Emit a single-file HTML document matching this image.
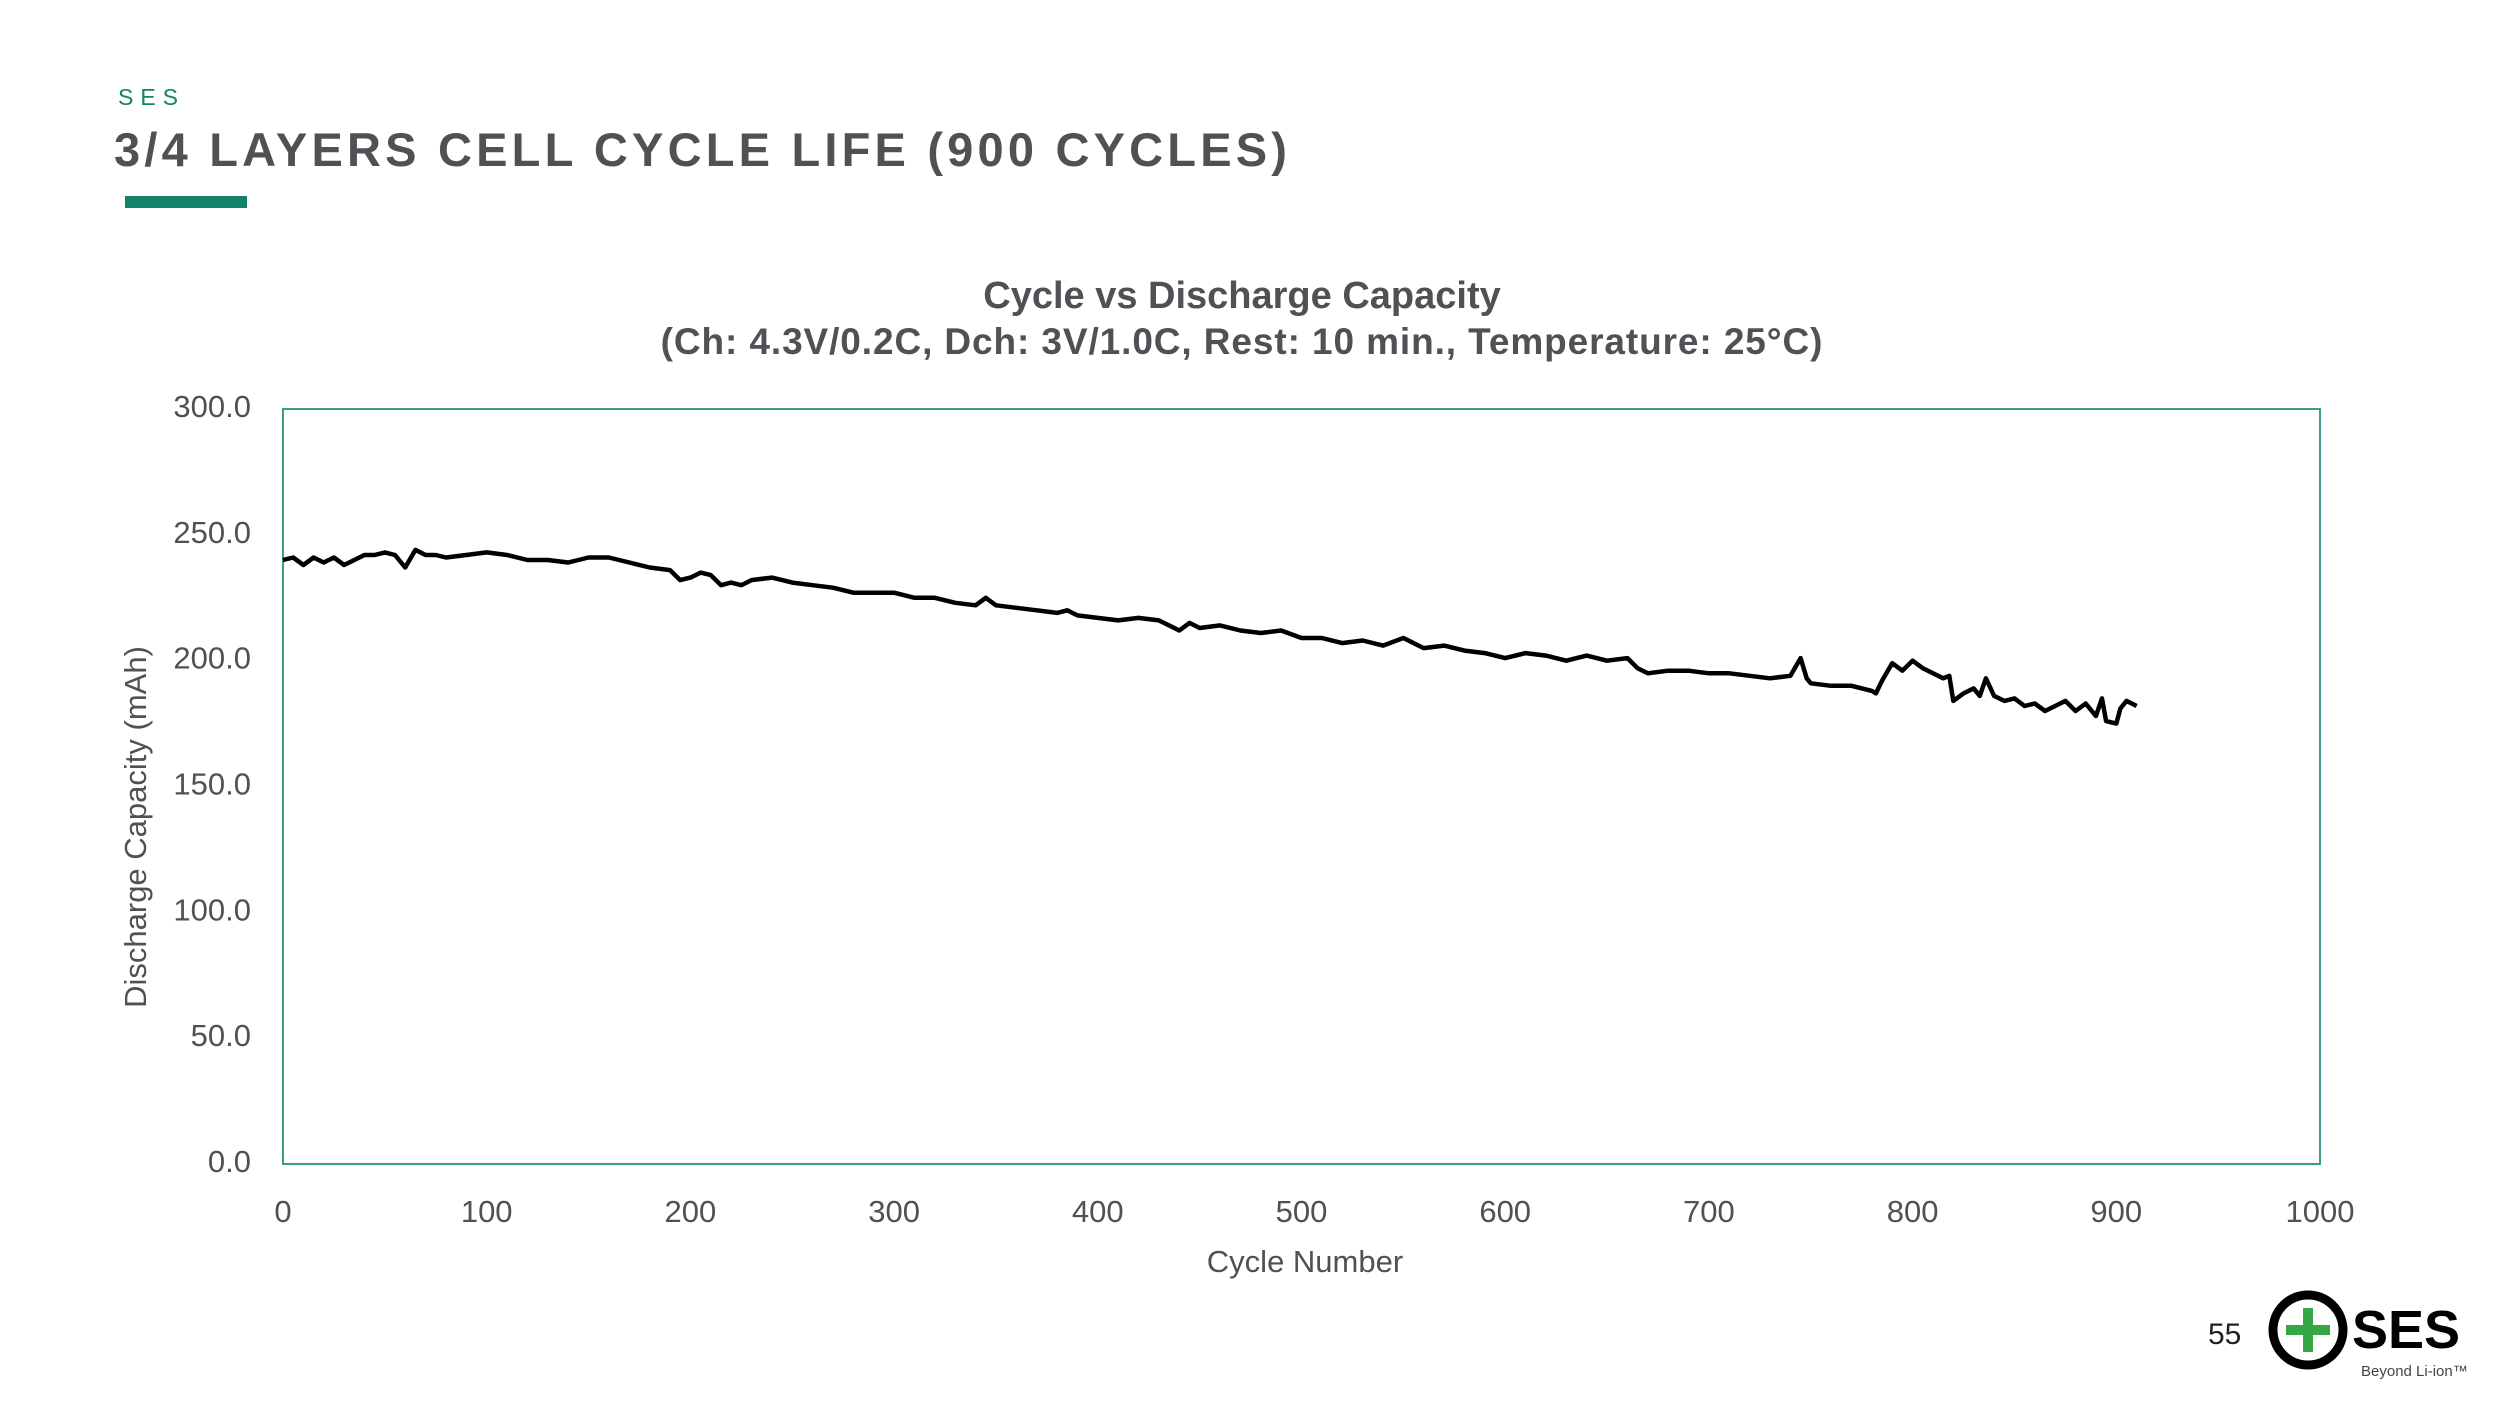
<!DOCTYPE html>
<html><head><meta charset="utf-8"><style>
html,body{margin:0;padding:0;background:#fff;}
body{width:2500px;height:1406px;position:relative;overflow:hidden;font-family:"Liberation Sans",sans-serif;}
.abs{position:absolute;}
</style></head><body>
<div class="abs" style="left:118px;top:84px;font-size:23px;letter-spacing:7px;color:#138367;">SES</div>
<div class="abs" style="left:114px;top:122px;font-size:47px;font-weight:bold;letter-spacing:4.2px;color:#505055;white-space:nowrap;">3/4 LAYERS CELL CYCLE LIFE (900 CYCLES)</div>
<div class="abs" style="left:125px;top:196px;width:122px;height:12px;background:#138367;"></div>

<svg class="abs" style="left:0;top:0" width="2500" height="1406">
  <g id="chart-root"></g>
</svg>

<div class="abs" style="left:2208px;top:1318px;font-size:30px;color:#222;">55</div>
<svg class="abs" style="left:2260px;top:1280px" width="240" height="120">
  <circle cx="48" cy="50" r="35" fill="none" stroke="#000" stroke-width="9"/>
  <rect x="26" y="45" width="44" height="10" fill="#35a846"/>
  <rect x="43" y="28" width="10" height="44" fill="#35a846"/>
  <text x="92" y="68" font-family="Liberation Sans, sans-serif" font-weight="bold" font-size="54" fill="#000">SES</text>
  <text x="101" y="96" font-family="Liberation Sans, sans-serif" font-size="15" fill="#444">Beyond Li-ion™</text>
</svg>

<script>
const xTicks = [0,100,200,300,400,500,600,700,800,900,1000];
const yTicks = [0,50,100,150,200,250,300];
const cycles = [0,5,10,15,20,25,30,35,40,45,50,55,60,65,70,75,80,90,100,110,120,130,140,150,160,170,180,190,195,200,205,210,215,220,225,230,240,250,260,270,280,290,300,310,320,330,340,345,350,360,370,380,385,390,400,410,420,430,440,445,450,460,470,480,490,500,510,520,530,540,550,560,570,580,590,600,610,620,630,640,650,660,665,670,680,690,700,710,720,730,740,745,748,750,760,770,780,782,785,790,795,800,805,810,815,818,820,825,830,833,836,840,845,850,855,860,865,870,875,880,885,890,893,895,900,902,905,910];
const capacity = [240,241,238,241,239,241,238,240,242,242,243,242,237,244,242,242,241,242,243,242,240,240,239,241,241,239,237,236,232,233,235,234,230,231,230,232,233,231,230,229,227,227,227,225,225,223,222,225,222,221,220,219,220,218,217,216,217,216,212,215,213,214,212,211,212,209,209,207,208,206,209,205,206,204,203,201,203,202,200,202,200,201,197,195,196,196,195,195,194,193,194,201,193,191,190,190,188,187,192,199,196,200,197,195,193,194,184,187,189,186,193,186,184,185,182,183,180,182,184,180,183,178,185,176,175,181,184,182];

const L=283,R=2320,T=409,B=1164;
const xMin=0,xMax=1000,yMin=0,yMax=300;
function xs(v){return L+(v-xMin)/(xMax-xMin)*(R-L);}
function ys(v){return B-(v-yMin)/(yMax-yMin)*(B-T);}
const NS='http://www.w3.org/2000/svg';
const root=document.getElementById('chart-root');
function mk(tag,attrs,text){const e=document.createElementNS(NS,tag);for(const k in attrs)e.setAttribute(k,attrs[k]);if(text!=null)e.textContent=text;root.appendChild(e);return e;}
const FF='Liberation Sans, sans-serif';

let t1=mk('text',{x:1242,y:308,'text-anchor':'middle','font-family':FF,'font-size':38,'font-weight':'bold',fill:'#505055'},'Cycle vs Discharge Capacity');


let t2=mk('text',{x:1242,y:354,'text-anchor':'middle','font-family':FF,'font-size':37,'font-weight':'bold','letter-spacing':0.9,fill:'#505055'},'(Ch: 4.3V/0.2C, Dch: 3V/1.0C, Rest: 10 min., Temperature: 25°C)');



let frame=mk('rect',{x:L,y:T,width:R-L,height:B-T,fill:'none',stroke:'#3a9c8a','stroke-width':2});



yTicks.forEach(v=>{
  const e=mk('text',{x:251,y:ys(v)+8,'text-anchor':'end','font-family':FF,'font-size':31,fill:'#505055'},v.toFixed(1));
  
  
});
xTicks.forEach(v=>{
  const e=mk('text',{x:xs(v),y:1222,'text-anchor':'middle','font-family':FF,'font-size':31,fill:'#505055'},String(v));
  
  
});
let xt=mk('text',{x:1305,y:1272,'text-anchor':'middle','font-family':FF,'font-size':31,fill:'#505055'},'Cycle Number');


let yt=mk('text',{x:0,y:0,'text-anchor':'middle','font-family':FF,'font-size':31,fill:'#505055',transform:'translate(146,827) rotate(-90)'},'Discharge Capacity (mAh)');



const d=cycles.map((c,i)=>(i?'L':'M')+xs(c).toFixed(1)+','+ys(capacity[i]).toFixed(1)).join(' ');
let line=mk('path',{d:d,fill:'none',stroke:'#000','stroke-width':4.5,'stroke-linejoin':'round'});


</script>
</body></html>
